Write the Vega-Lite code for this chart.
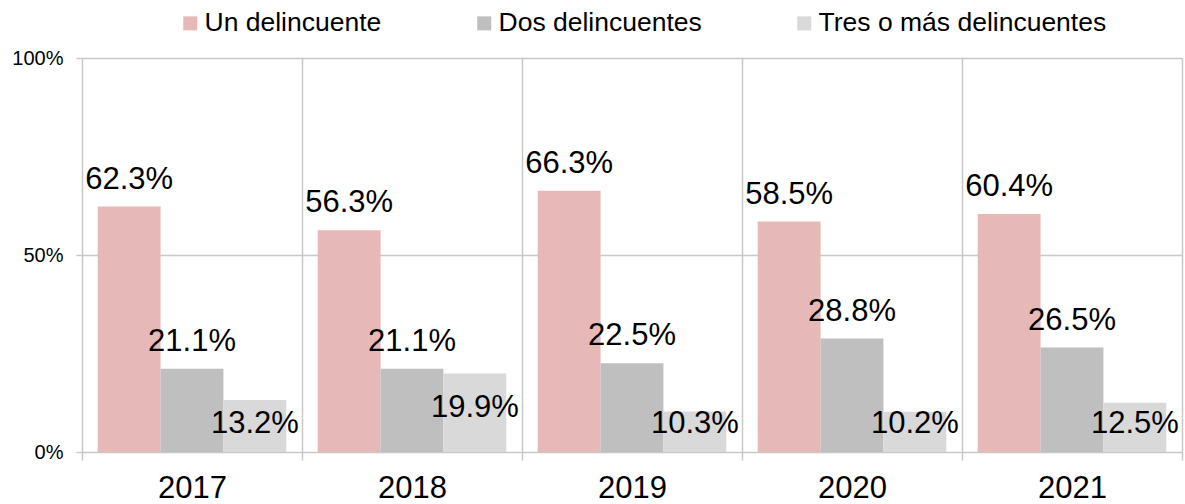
{
  "$schema": "https://vega.github.io/schema/vega-lite/v6.json",
  "width": 1100,
  "height": 394,
  "autosize": {"type": "none"},
  "padding": {"left": 82, "top": 58, "right": 3, "bottom": 52},
  "background": "white",
  "config": {
    "view": {"stroke": null},
    "font": "Liberation Sans",
    "text": {"font": "Liberation Sans", "color": "#000000"}
  },
  "data": {
    "values": [
      {"year": "2017", "series": "Un delincuente", "value": 0.623},
      {"year": "2017", "series": "Dos delincuentes", "value": 0.211},
      {"year": "2017", "series": "Tres o más delincuentes", "value": 0.132},
      {"year": "2018", "series": "Un delincuente", "value": 0.563},
      {"year": "2018", "series": "Dos delincuentes", "value": 0.211},
      {"year": "2018", "series": "Tres o más delincuentes", "value": 0.199},
      {"year": "2019", "series": "Un delincuente", "value": 0.663},
      {"year": "2019", "series": "Dos delincuentes", "value": 0.225},
      {"year": "2019", "series": "Tres o más delincuentes", "value": 0.103},
      {"year": "2020", "series": "Un delincuente", "value": 0.585},
      {"year": "2020", "series": "Dos delincuentes", "value": 0.288},
      {"year": "2020", "series": "Tres o más delincuentes", "value": 0.102},
      {"year": "2021", "series": "Un delincuente", "value": 0.604},
      {"year": "2021", "series": "Dos delincuentes", "value": 0.265},
      {"year": "2021", "series": "Tres o más delincuentes", "value": 0.125}
    ]
  },
  "encoding": {
    "x": {
      "field": "year",
      "type": "nominal",
      "scale": {"paddingInner": 0, "paddingOuter": 0},
      "axis": {
        "title": null,
        "labelAngle": 0,
        "labelFontSize": 31,
        "labelColor": "#000000",
        "labelFont": "Liberation Sans",
        "labelPadding": 13,
        "tickBand": "extent",
        "tickSize": 8,
        "tickColor": "#c8c8c8",
        "tickWidth": 1.5,
        "grid": true,
        "gridColor": "#c8c8c8",
        "gridWidth": 1.5,
        "domain": false
      }
    },
    "xOffset": {
      "field": "series",
      "type": "nominal",
      "sort": ["Un delincuente", "Dos delincuentes", "Tres o más delincuentes"],
      "scale": {"paddingInner": 0, "paddingOuter": 0.25}
    }
  },
  "layer": [
    {
      "mark": {"type": "bar"},
      "encoding": {
        "y": {
          "field": "value",
          "type": "quantitative",
          "scale": {"domain": [0, 1], "nice": false},
          "axis": {
            "title": null,
            "values": [0, 0.5, 1],
            "format": ".0%",
            "labelFontSize": 20,
            "labelColor": "#000000",
            "labelFont": "Liberation Sans",
            "labelPadding": 13,
            "tickSize": 6,
            "tickColor": "#c8c8c8",
            "tickWidth": 1.5,
            "grid": true,
            "gridColor": "#c8c8c8",
            "gridWidth": 1.5,
            "domain": false
          }
        },
        "color": {
          "field": "series",
          "type": "nominal",
          "sort": ["Un delincuente", "Dos delincuentes", "Tres o más delincuentes"],
          "scale": {
            "domain": ["Un delincuente", "Dos delincuentes", "Tres o más delincuentes"],
            "range": ["#e6b8b7", "#bfbfbf", "#d9d9d9"]
          },
          "legend": {
            "title": null,
            "orient": "none",
            "legendX": 95,
            "legendY": -48,
            "direction": "horizontal",
            "symbolType": "square",
            "symbolSize": 196,
            "symbolStrokeWidth": 0,
            "labelFontSize": 26.5,
            "labelFont": "Liberation Sans",
            "labelColor": "#000000",
            "labelOffset": 1,
            "labelLimit": 500,
            "columnPadding": 89,
            "padding": 0
          }
        }
      }
    },
    {
      "transform": [{"filter": "datum.series !== 'Tres o más delincuentes'"}],
      "mark": {"type": "text", "baseline": "alphabetic", "dy": -18, "fontSize": 31},
      "encoding": {
        "y": {"field": "value", "type": "quantitative"},
        "text": {"field": "value", "type": "quantitative", "format": ".1%"}
      }
    },
    {
      "transform": [{"filter": "datum.series === 'Tres o más delincuentes' && datum.value >= 0.15"}],
      "mark": {"type": "text", "baseline": "alphabetic", "dy": 43, "fontSize": 31},
      "encoding": {
        "y": {"field": "value", "type": "quantitative"},
        "text": {"field": "value", "type": "quantitative", "format": ".1%"}
      }
    },
    {
      "transform": [{"filter": "datum.series === 'Tres o más delincuentes' && datum.value < 0.15"}],
      "mark": {"type": "text", "baseline": "alphabetic", "fontSize": 31},
      "encoding": {
        "y": {"datum": 0.048, "type": "quantitative"},
        "text": {"field": "value", "type": "quantitative", "format": ".1%"}
      }
    }
  ]
}
